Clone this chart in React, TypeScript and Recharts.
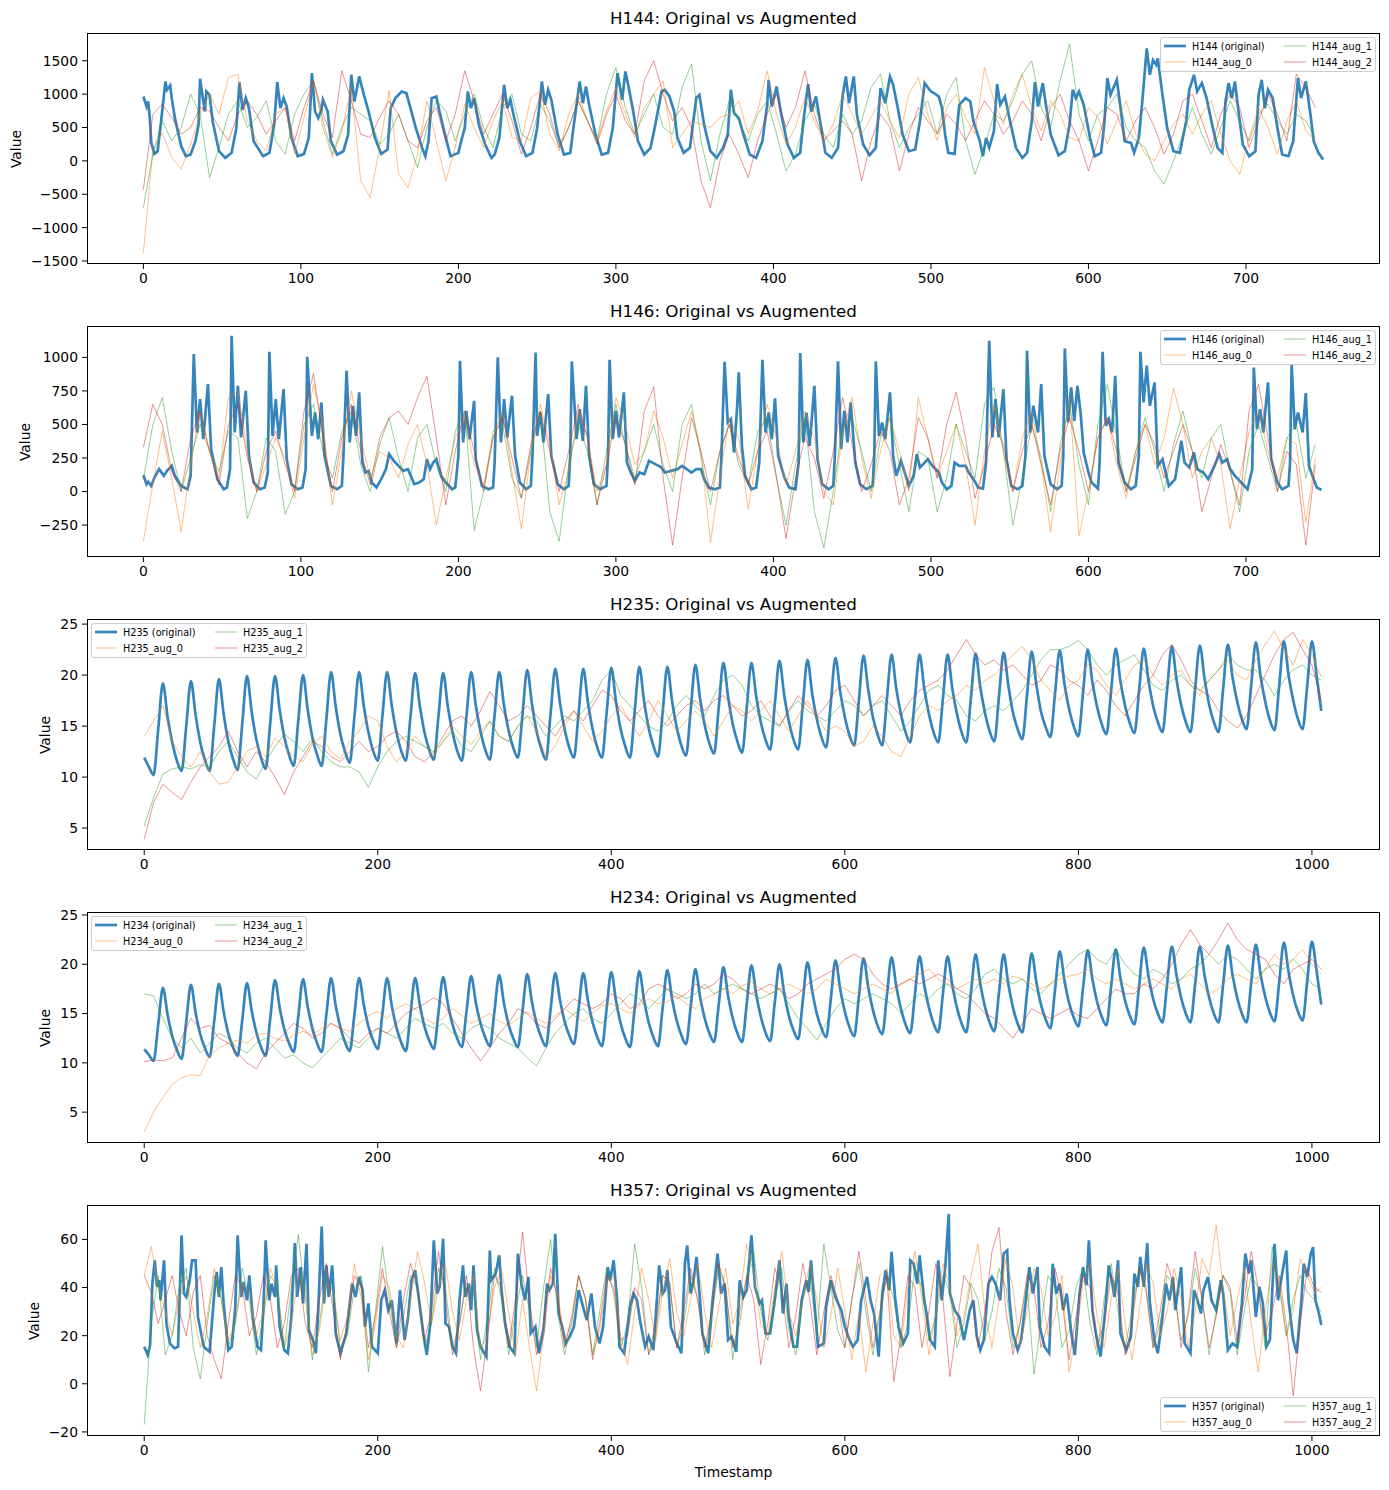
import React from "react";
import { LineChart, Line, XAxis, YAxis } from "recharts";

const FONT = "'DejaVu Sans', sans-serif";
const C_ORIG = "#1f77b4";
const C_AUG = ["#ff7f0e", "#2ca02c", "#d62728"];

// ---------- H144 ----------
const H144_ORIG: [number, number][] = [[0,965],[2,815],[3,890],[4,665],[5,270],[7,105],[9,145],[11,540],[14,1190],[15,1065],[17,1130],[18,940],[20,640],[24,220],[27,70],[30,95],[33,295],[35,540],[36,1230],[39,740],[40,1040],[42,990],[44,590],[48,145],[52,45],[56,120],[59,490],[61,1175],[63,765],[65,940],[67,790],[70,295],[76,70],[80,120],[83,540],[85,1180],[87,790],[89,940],[91,815],[94,345],[98,70],[102,105],[105,345],[107,1315],[109,740],[111,640],[113,765],[114,915],[117,740],[119,295],[123,95],[127,145],[130,395],[132,1290],[134,890],[137,1265],[140,990],[143,740],[147,345],[151,105],[155,170],[157,790],[160,940],[164,1040],[167,1015],[169,840],[173,490],[177,195],[179,70],[181,295],[183,940],[186,965],[188,740],[192,345],[195,70],[200,120],[202,320],[204,490],[206,1040],[208,790],[210,940],[213,540],[217,245],[221,45],[223,95],[226,345],[229,1140],[231,790],[233,915],[235,690],[239,295],[243,70],[247,120],[250,490],[253,1190],[255,840],[257,1065],[259,915],[263,395],[267,95],[271,120],[273,490],[277,1190],[279,865],[281,1115],[283,840],[287,395],[291,95],[295,120],[298,490],[301,1315],[304,915],[306,1340],[308,1115],[311,740],[314,295],[318,95],[322,195],[325,540],[329,1040],[331,1065],[334,965],[337,740],[339,345],[343,120],[347,195],[351,940],[353,990],[356,540],[360,145],[364,45],[368,195],[371,395],[373,1065],[375,715],[378,640],[381,395],[385,95],[389,45],[393,295],[396,840],[397,1215],[399,815],[402,1115],[405,690],[409,245],[413,45],[417,120],[419,590],[422,1150],[424,740],[427,965],[430,540],[433,120],[437,45],[441,195],[444,990],[446,1265],[448,865],[451,1265],[453,690],[457,245],[461,85],[465,195],[468,1090],[471,865],[474,1265],[476,1140],[479,790],[482,395],[486,145],[490,170],[493,590],[496,1165],[500,1040],[502,1015],[505,965],[507,790],[509,395],[511,120],[515,105],[518,840],[522,940],[525,890],[527,590],[531,295],[533,70],[535,345],[537,195],[540,445],[542,1150],[544,840],[547,965],[550,615],[554,195],[558,45],[561,120],[564,590],[566,1180],[568,815],[571,1165],[573,840],[576,395],[581,85],[585,145],[588,540],[590,1065],[592,940],[594,1040],[597,840],[601,345],[604,70],[608,120],[610,540],[612,1240],[614,990],[618,1215],[620,865],[623,295],[627,270],[629,120],[632,345],[634,840],[637,1685],[639,1290],[641,1510],[643,1440],[644,1535],[647,990],[650,490],[654,145],[658,120],[662,590],[664,1065],[667,1290],[669,1040],[672,1165],[675,940],[679,490],[682,195],[685,120],[687,890],[689,1165],[691,940],[693,1190],[695,790],[698,245],[702,70],[706,145],[708,990],[710,1215],[712,790],[714,1065],[717,940],[720,490],[723,95],[727,70],[730,295],[733,1240],[735,940],[738,1190],[741,690],[743,295],[746,120],[749,20]];
const H144_AUG0 = [-1375,150,420,50,-120,250,700,1000,700,1250,1300,600,300,150,700,800,100,650,1200,500,50,450,1100,-300,-550,200,1050,-200,-400,100,900,300,-300,200,850,500,200,600,900,350,300,950,1050,400,150,700,1000,600,300,750,1100,700,350,800,1000,1200,200,400,600,550,500,650,700,900,400,750,1350,700,250,500,950,600,300,550,1000,700,400,650,900,600,350,1000,1250,700,300,800,1000,650,400,1400,900,550,1000,1300,800,450,900,700,350,300,800,650,250,600,900,400,100,0,300,550,700,400,700,900,400,0,-200,350,800,500,100,600,900,450,300];
const H144_AUG1 = [-700,100,600,300,500,1000,700,-250,200,700,900,500,650,900,300,100,700,1000,1200,600,100,500,800,700,600,250,400,700,300,-100,500,900,750,300,700,1000,500,200,800,1000,400,300,850,600,200,500,900,600,300,1000,1400,800,400,700,1000,500,400,1100,1450,300,-300,400,900,600,300,700,900,400,-150,100,600,850,400,200,700,400,600,1100,1300,600,200,500,700,900,400,1000,1250,300,-200,200,700,600,900,1300,1500,800,500,1200,1750,700,300,700,800,1000,500,300,200,-150,-350,0,400,800,400,100,500,900,600,300,700,850,600,400,700,600,350];
const H144_AUG2 = [-430,700,850,650,400,500,800,750,500,300,700,900,700,400,600,800,300,800,1200,700,350,1350,900,400,350,650,900,700,300,200,600,800,300,700,1350,900,400,700,1000,600,100,500,1000,700,200,500,900,600,250,700,1000,600,400,1200,1500,1000,600,800,500,-300,-700,0,400,100,-250,300,700,1000,500,800,1350,700,300,450,600,400,-300,300,700,500,-150,400,800,600,400,700,550,300,600,900,700,400,600,900,700,300,800,1000,600,300,-150,300,800,700,300,600,800,500,100,400,900,1000,600,200,700,1000,800,200,600,1000,700,300,1300,1100,800];

// ---------- H146 ----------
const H146_ORIG: [number, number][] = [[0,122],[2,55],[3,72],[5,42],[7,104],[10,167],[13,117],[15,154],[18,191],[20,117],[24,42],[28,17],[30,117],[32,1025],[34,440],[36,689],[38,390],[41,801],[43,316],[47,92],[51,17],[53,30],[55,167],[56,1161],[58,440],[60,788],[62,403],[65,751],[67,266],[70,67],[74,17],[77,30],[79,142],[80,1042],[82,415],[84,689],[86,390],[89,764],[91,241],[94,55],[98,17],[101,30],[103,167],[104,1005],[107,415],[109,589],[111,390],[113,664],[115,266],[119,42],[123,17],[126,42],[127,266],[129,900],[131,366],[133,639],[135,415],[137,739],[139,216],[141,142],[143,154],[145,67],[148,30],[151,92],[154,167],[156,279],[159,229],[162,191],[165,154],[168,167],[172,55],[175,67],[178,92],[180,241],[182,167],[184,216],[186,241],[189,117],[192,67],[196,17],[198,30],[200,266],[201,975],[203,366],[205,602],[207,390],[210,676],[211,241],[215,42],[219,17],[222,30],[223,216],[225,1000],[227,366],[229,689],[231,403],[234,714],[236,266],[239,67],[243,17],[246,42],[247,266],[249,1037],[250,415],[252,589],[254,366],[257,726],[259,266],[263,55],[267,17],[270,42],[271,266],[272,970],[275,390],[277,614],[279,378],[281,788],[283,266],[286,55],[290,17],[294,42],[295,266],[296,982],[298,390],[300,602],[302,403],[305,739],[307,216],[309,154],[312,80],[315,142],[318,129],[321,229],[325,204],[329,179],[331,142],[335,154],[339,167],[342,191],[345,167],[348,142],[351,167],[354,167],[356,92],[359,30],[363,17],[366,30],[367,266],[369,967],[371,515],[373,540],[375,291],[377,640],[378,888],[380,341],[382,117],[386,17],[389,30],[391,216],[393,982],[395,440],[397,589],[399,390],[401,694],[403,266],[407,104],[410,30],[414,17],[416,216],[417,1032],[419,366],[421,589],[423,341],[426,788],[428,241],[431,55],[435,17],[438,42],[439,266],[441,970],[443,316],[445,602],[447,366],[449,664],[452,216],[455,55],[459,17],[463,42],[464,266],[465,970],[467,415],[469,515],[471,390],[474,739],[476,266],[478,117],[481,229],[484,117],[486,42],[489,117],[491,279],[493,179],[496,216],[498,241],[501,191],[505,142],[507,67],[510,17],[513,42],[515,216],[518,191],[522,191],[524,142],[527,92],[530,30],[533,22],[535,216],[537,1124],[539,403],[541,689],[543,403],[546,764],[548,241],[551,42],[555,17],[558,42],[560,266],[561,1050],[563,440],[565,639],[568,440],[570,801],[572,266],[576,55],[580,17],[583,42],[584,266],[585,1067],[587,515],[589,776],[591,527],[593,788],[595,589],[597,291],[600,142],[602,67],[606,22],[607,191],[609,1042],[611,490],[613,540],[615,440],[617,863],[619,216],[623,67],[627,17],[630,42],[632,266],[633,1042],[635,664],[637,938],[639,639],[642,813],[644,191],[647,241],[651,42],[655,92],[659,378],[661,216],[664,179],[667,291],[669,167],[673,142],[676,92],[680,191],[683,279],[685,216],[688,241],[690,167],[693,117],[697,67],[701,17],[704,167],[705,925],[707,465],[709,614],[711,440],[714,813],[716,241],[720,67],[723,17],[727,42],[728,216],[729,950],[731,465],[733,589],[736,440],[738,734],[740,191],[743,92],[745,30],[748,12]];
const H146_AUG0 = [-370,50,450,100,-300,200,600,300,100,700,750,300,0,200,400,250,-50,400,800,500,-100,300,750,400,100,300,250,100,350,500,200,-250,100,400,550,200,50,400,600,150,-280,300,650,350,-100,150,600,400,0,200,700,500,200,300,600,400,100,350,600,300,-380,100,550,400,-130,300,650,400,50,300,600,400,0,-100,450,700,250,-50,300,550,300,0,700,400,100,300,500,200,-250,300,650,300,0,400,600,200,-300,200,700,-330,0,400,550,200,-50,300,500,200,400,770,500,100,300,400,200,-280,100,450,600,300,100,400,350,-230,250];
const H146_AUG1 = [90,500,700,300,0,250,500,300,150,450,400,-200,0,400,300,-170,0,500,650,300,100,450,600,200,0,350,550,250,0,400,500,200,0,450,600,-290,0,450,500,100,-50,300,600,-150,-370,200,500,300,-100,300,650,350,100,300,500,200,0,500,650,250,-100,300,500,200,50,450,550,100,-250,200,550,-150,-420,0,500,550,300,0,400,550,200,-150,300,250,-150,100,500,300,100,650,780,300,-250,100,500,250,-150,350,650,200,-100,500,800,400,0,300,550,300,0,350,600,300,100,400,500,150,-150,300,500,250,0,400,500,100,350];
const H146_AUG2 = [330,650,500,150,0,400,600,300,50,500,650,250,0,300,450,200,0,600,880,400,0,400,650,300,50,400,550,600,500,700,860,400,-100,300,600,300,0,400,550,250,-50,350,600,300,0,300,650,400,-100,200,550,350,50,600,780,100,-400,100,550,300,0,300,500,250,50,300,450,100,-350,100,400,250,-50,300,700,350,0,200,450,300,-100,100,550,400,100,500,740,400,-50,200,500,350,0,300,500,200,-100,300,550,300,0,400,550,300,0,250,500,350,100,300,500,300,-150,100,350,150,-100,600,800,400,0,300,200,-400,200];

// ---------- H235 (original every 4 steps) ----------
const H235_ORIG = [11.9,11.0,10.2,14.7,19.2,15.9,13.4,11.6,10.6,15.0,19.4,16.1,13.4,11.7,10.6,15.1,19.6,16.2,13.5,11.8,10.7,15.3,19.9,16.4,13.7,11.9,10.8,15.4,19.9,16.6,13.9,12.2,11.1,15.6,20.0,16.6,13.9,12.2,11.1,15.7,20.3,16.9,14.2,12.5,11.4,15.9,20.3,17.0,14.4,12.6,11.6,16.0,20.3,17.0,14.4,12.6,11.6,15.9,20.2,17.0,14.4,12.7,11.7,16.0,20.2,16.9,14.4,12.6,11.6,16.0,20.3,17.0,14.5,12.7,11.7,16.0,20.3,17.1,14.6,12.9,11.9,16.2,20.5,17.2,14.5,12.8,11.7,16.2,20.6,17.3,14.7,12.9,11.9,16.3,20.6,17.3,14.7,12.9,11.9,16.3,20.7,17.4,14.7,13.0,11.9,16.4,20.8,17.5,14.8,13.1,12.0,16.4,20.8,17.5,14.9,13.1,12.1,16.6,21.0,17.7,15.1,13.3,12.3,16.8,21.2,17.9,15.2,13.5,12.4,16.8,21.2,18.0,15.4,13.7,12.7,17.1,21.4,18.1,15.5,13.7,12.7,17.1,21.5,18.2,15.7,13.9,12.9,17.3,21.7,18.4,15.9,14.1,13.1,17.5,21.9,18.6,15.9,14.2,13.1,17.6,22.0,18.7,16.2,14.4,13.4,17.7,22.0,18.7,16.2,14.4,13.4,17.7,22.0,18.7,16.2,14.4,13.4,17.8,22.1,18.8,16.3,14.5,13.5,17.9,22.2,19.0,16.3,14.7,13.7,18.0,22.3,19.1,16.4,14.9,13.9,18.2,22.4,19.2,16.7,15.0,14.0,18.3,22.5,19.3,16.9,15.2,14.2,18.4,22.6,19.4,17.0,15.3,14.3,18.5,22.6,19.5,17.0,15.4,14.4,18.6,22.8,19.6,17.1,15.4,14.4,18.7,22.9,19.7,17.1,15.4,14.4,18.7,23.0,19.8,17.4,15.7,14.7,19.0,23.2,19.9,17.4,15.6,14.6,19.0,23.3,20.0,17.5,15.7,14.7,19.0,23.3,20.0,16.5];
const H235_AUG0 = [14.0,15.5,17.0,13.5,12.0,11.0,12.5,10.5,9.3,9.5,11.0,12.5,13.0,12.0,13.8,13.0,12.0,11.5,13.2,14.0,12.5,11.8,13.5,14.5,16.0,15.5,13.0,11.5,12.5,14.0,13.0,12.0,13.5,15.0,14.0,13.2,14.5,15.5,14.0,13.5,15.0,16.0,14.5,12.0,13.0,15.0,16.5,15.0,13.5,14.5,16.0,17.0,15.5,14.0,15.5,17.5,16.0,14.5,15.5,16.5,15.5,14.0,15.5,17.0,16.5,15.5,16.5,17.5,16.0,14.5,16.0,17.5,16.0,14.5,15.0,14.5,13.0,13.5,15.0,14.0,12.5,12.0,14.0,16.0,17.0,16.5,17.5,18.0,19.0,18.5,19.5,20.0,21.0,22.0,22.8,21.5,19.5,18.5,17.5,19.0,19.5,21.0,20.5,19.0,18.0,19.5,21.0,21.5,20.0,19.0,20.0,20.5,19.0,18.0,19.5,20.5,21.5,20.0,19.5,21.5,23.0,24.3,22.5,21.0,23.5,22.0,19.8];
const H235_AUG1 = [5.2,8.0,10.3,10.8,11.0,10.8,11.2,11.0,12.5,13.5,12.0,10.5,9.8,11.5,13.0,14.2,13.5,12.5,13.8,12.5,11.5,11.0,11.0,10.5,9.0,11.0,12.5,13.5,14.0,13.5,13.0,12.5,13.5,14.5,13.0,12.5,14.0,15.5,14.0,13.5,15.0,16.0,15.5,14.0,15.0,16.0,15.5,16.5,17.5,19.5,20.5,18.0,17.0,16.0,15.0,14.5,15.5,17.0,18.0,17.0,16.0,18.0,19.5,20.0,19.0,17.0,16.0,15.5,15.0,16.5,17.5,16.5,16.0,15.5,16.5,17.5,17.0,16.0,17.0,17.5,16.0,14.5,15.5,17.0,18.5,19.0,18.0,17.5,16.0,15.5,16.5,17.0,16.5,17.5,18.5,20.0,21.5,22.5,22.5,22.8,23.4,22.5,21.0,20.0,21.0,21.5,22.0,20.5,19.0,18.5,19.5,20.0,19.0,18.5,19.5,20.5,22.0,21.0,20.5,20.5,19.5,18.0,19.5,20.5,21.0,20.0,19.5];
const H235_AUG2 = [3.9,7.5,9.3,8.5,7.8,9.5,11.0,12.0,13.0,14.5,12.5,11.0,12.5,11.5,10.0,8.3,10.5,12.0,13.5,13.0,12.0,11.5,12.5,13.5,12.5,13.0,14.0,14.5,13.5,12.0,11.5,12.5,14.0,15.5,16.0,15.0,16.5,18.4,17.0,15.5,16.0,17.0,16.0,15.0,14.0,15.5,16.5,15.5,17.0,18.5,18.0,16.5,15.5,16.5,17.5,16.0,15.0,16.0,17.0,17.5,16.5,17.5,18.0,17.0,16.0,16.5,17.5,16.0,15.0,16.5,18.0,17.0,16.0,17.0,18.5,19.0,17.5,16.0,17.0,18.0,17.0,16.0,17.5,18.5,19.0,19.5,20.5,22.0,23.5,22.0,21.0,21.5,20.5,21.0,20.0,19.0,19.5,21.0,20.5,19.5,19.0,18.0,19.5,18.5,17.0,16.0,17.5,19.0,20.0,22.0,23.0,21.5,19.5,18.5,18.0,16.5,15.5,14.8,16.0,18.0,20.0,22.0,23.5,24.2,22.5,21.0,17.5];

// ---------- H234 (original every 4 steps) ----------
const H234_ORIG = [11.4,10.8,10.2,13.9,17.6,14.9,12.7,11.3,10.4,14.2,17.9,15.1,12.9,11.5,10.6,14.3,18.0,15.2,13.0,11.6,10.7,14.4,18.1,15.3,13.1,11.6,10.7,14.6,18.4,15.6,13.4,12.0,11.1,14.8,18.5,15.7,13.5,12.0,11.1,14.9,18.6,15.8,13.6,12.1,11.2,14.9,18.6,15.9,13.7,12.3,11.4,15.0,18.6,15.8,13.6,12.1,11.2,14.9,18.6,15.9,13.7,12.3,11.4,15.1,18.7,16.0,13.9,12.5,11.6,15.2,18.8,16.1,14.0,12.6,11.7,15.3,18.9,16.1,13.9,12.5,11.6,15.3,19.0,16.2,14.0,12.6,11.7,15.4,19.1,16.4,14.2,12.8,11.9,15.5,19.1,16.3,14.1,12.6,11.7,15.5,19.2,16.3,14.0,12.5,11.6,15.5,19.3,16.4,14.1,12.6,11.7,15.6,19.4,16.5,14.3,12.8,11.9,15.7,19.5,16.7,14.5,13.0,12.1,15.9,19.7,16.8,14.5,13.0,12.1,16.0,19.9,17.0,14.7,13.1,12.2,16.1,20.0,17.1,14.8,13.3,12.4,16.3,20.2,17.3,15.0,13.5,12.6,16.5,20.4,17.5,15.2,13.6,12.7,16.7,20.6,17.7,15.4,13.8,12.9,16.8,20.7,17.8,15.5,13.9,13.0,16.9,20.8,17.9,15.6,14.0,13.1,17.0,20.8,17.9,15.6,14.0,13.1,17.1,21.0,18.0,15.7,14.1,13.2,17.1,21.0,18.0,15.6,14.0,13.1,17.1,21.1,18.2,15.9,14.4,13.5,17.4,21.3,18.4,16.1,14.6,13.7,17.6,21.4,18.5,16.2,14.7,13.8,17.7,21.5,18.6,16.3,14.8,13.9,17.8,21.7,18.8,16.5,15.0,14.1,18.0,21.8,18.9,16.6,15.0,14.1,18.0,21.8,18.9,16.6,15.0,14.1,18.0,21.9,18.9,16.6,15.0,14.1,18.1,22.0,19.0,16.7,15.1,14.2,18.2,22.2,19.2,16.8,15.2,14.3,18.3,22.3,19.3,15.9];
const H234_AUG0 = [3.0,5.0,6.5,7.8,8.5,8.8,8.7,10.8,11.5,12.0,12.3,12.0,12.8,13.0,12.5,12.2,12.8,13.2,12.8,13.5,14.0,13.5,13.2,14.0,14.8,15.2,14.5,15.5,16.0,15.5,14.5,14.0,14.5,15.5,14.8,14.0,14.5,15.0,14.2,13.8,14.5,15.2,14.5,14.0,14.8,15.5,14.8,14.2,15.0,15.8,16.0,15.5,15.0,15.8,16.5,16.0,16.2,16.8,16.0,15.5,16.5,17.0,17.5,17.0,17.8,18.2,17.5,17.0,17.5,18.0,17.5,17.0,17.5,18.5,18.0,17.5,17.0,17.5,18.0,17.5,17.0,18.0,18.5,19.0,19.5,18.5,18.0,17.5,18.0,18.5,18.0,18.5,18.0,18.8,18.5,18.0,17.5,18.0,18.5,18.8,19.0,19.5,18.5,18.0,18.5,18.0,17.5,18.0,18.5,18.0,17.5,18.5,19.0,18.0,17.0,17.5,18.5,19.0,18.5,18.0,19.5,21.0,20.0,20.5,21.5,20.0,19.0];
const H234_AUG1 = [17.0,16.8,14.5,12.5,11.5,12.5,11.0,12.0,13.0,12.5,11.5,11.0,12.0,12.5,11.5,10.5,10.8,10.0,9.5,10.5,11.5,12.5,12.0,11.5,12.5,13.5,13.0,12.5,13.5,14.5,14.0,13.5,14.0,13.0,12.5,13.5,14.0,13.5,12.5,12.0,11.5,10.5,9.7,11.5,13.0,14.0,15.0,15.5,14.5,14.0,15.0,16.0,17.0,16.5,15.5,16.5,17.5,17.0,16.5,17.0,18.0,17.0,17.5,18.0,17.5,17.0,16.5,17.0,17.5,16.0,14.5,13.5,12.3,14.0,15.5,16.5,16.0,16.5,17.0,16.5,16.0,15.0,16.0,17.0,16.5,17.5,18.0,17.0,16.5,17.5,19.0,19.5,18.5,18.0,18.5,17.5,17.0,18.0,19.0,20.0,21.0,21.5,20.5,20.0,21.5,20.0,19.0,18.5,19.5,19.0,18.0,18.5,19.5,20.0,21.0,20.0,21.0,20.5,19.5,18.5,19.5,20.0,19.5,20.5,19.5,18.0,17.5];
const H234_AUG2 = [10.1,10.3,10.2,10.5,12.5,14.5,13.5,13.8,12.5,12.0,11.0,10.0,9.4,11.0,12.0,13.0,14.0,13.5,12.5,13.0,14.0,13.5,12.5,12.0,13.0,13.5,13.0,14.0,15.0,15.5,16.0,16.6,16.0,14.5,13.0,11.5,10.2,11.5,13.0,14.0,15.5,15.0,14.0,13.5,14.5,15.5,16.5,16.0,15.5,16.0,17.0,16.5,15.5,16.0,17.5,18.0,17.5,16.5,17.0,18.0,17.5,18.0,19.0,18.5,17.5,17.0,17.5,18.0,17.5,16.5,17.0,18.0,18.5,19.0,19.5,20.5,21.0,20.5,19.0,18.0,17.5,18.0,18.5,18.0,18.5,19.0,18.5,17.5,17.0,16.0,15.0,14.5,13.5,12.5,14.0,15.5,15.0,14.5,15.0,15.5,14.8,14.5,15.5,16.5,17.5,17.0,17.0,18.0,17.5,18.5,20.0,22.0,23.5,22.0,21.0,22.5,24.2,22.5,21.5,21.0,20.5,19.0,18.0,19.5,20.0,20.5,19.5];

// ---------- H357 ----------
const H357_ORIG: [number, number][] = [[0,15.4],[3,12],[5,16],[7,41.6],[9,51.3],[11,40.3],[13,43],[14,34.7],[17,51.3],[19,25.1],[22,16.8],[26,14.7],[29,15.4],[32,61.7],[34,37.5],[36,36.1],[39,43],[41,51.3],[44,51.3],[46,27.8],[51,15.4],[56,13.3],[60,37.5],[62,46.5],[64,36.1],[66,48.5],[68,33.4],[72,14],[75,15.4],[78,32],[80,61.7],[83,36.1],[85,42.3],[88,34.7],[90,45.1],[93,27.8],[97,15.4],[100,14],[102,30.6],[104,59.6],[107,34.7],[109,41.6],[112,36.1],[113,49.2],[116,23.7],[120,14],[123,12.7],[126,27.8],[129,58.5],[131,36.1],[134,48.5],[136,33.4],[139,58.2],[141,22.3],[145,17.5],[147,12.7],[149,30.6],[152,65.4],[154,33.4],[156,49.2],[158,36.1],[161,49.2],[164,20.9],[168,12.7],[173,20.9],[178,41.6],[181,36.1],[184,44.4],[187,38.9],[189,23.7],[192,33.4],[195,15.4],[200,12.7],[203,34.7],[206,38.9],[209,30.6],[212,34.7],[216,16.8],[219,38.9],[223,18.2],[226,27.8],[229,43],[232,47.2],[235,36.1],[239,20.9],[242,12],[245,25.1],[248,59.6],[251,37.5],[253,40.3],[256,60.3],[258,25.1],[261,23.7],[264,15.4],[267,12.7],[270,34.7],[273,49.2],[275,36.1],[278,41.6],[280,30.6],[282,49.2],[285,22.3],[288,15.4],[293,11.3],[296,55.4],[297,43],[301,45.8],[304,53.4],[306,38.9],[309,25.1],[313,15.4],[317,12.7],[320,54.1],[323,41.6],[326,34.7],[329,44.4],[331,20.9],[335,23.7],[338,12.7],[342,22.3],[345,41.6],[347,38.9],[350,41.6],[352,62.3],[355,29.2],[358,23.7],[361,16.8],[365,20.2],[368,23.7],[372,38.9],[375,33.4],[379,26.5],[383,37.5],[386,23.7],[390,16.8],[393,23.7],[397,48.5],[399,43],[402,51.3],[405,34.7],[407,15.4],[411,12.7],[416,32],[419,37.5],[422,34.7],[425,25.1],[429,15.4],[432,19.6],[436,14],[439,34.7],[441,49.2],[444,37.5],[446,38.9],[448,47.2],[451,23.7],[455,18.2],[460,12.7],[463,49.9],[465,57.5],[468,37.5],[470,41.6],[473,52.7],[476,34.7],[478,20.9],[483,12.7],[487,36.1],[491,54.1],[494,37.5],[497,41.6],[500,18.2],[503,19.6],[507,13.3],[510,43],[513,36.1],[516,38.9],[520,61.7],[523,40.3],[527,33.4],[529,34.7],[532,20.9],[536,20.9],[540,34.7],[544,51.3],[547,29.2],[550,41.6],[552,27.8],[556,15.4],[559,15.4],[563,34.7],[567,43],[569,38.2],[571,51.3],[574,33.4],[577,15.4],[582,16.8],[584,32],[588,43],[591,37.5],[593,34.7],[597,30.6],[600,23.7],[604,18.2],[607,15.4],[611,18.2],[614,34.7],[619,44.4],[622,34.7],[625,29.2],[629,11.3],[632,37.5],[635,47.2],[638,38.9],[640,54.8],[643,36.1],[646,23.7],[650,16.8],[654,20.9],[656,51.3],[659,49.9],[662,41.6],[664,53.4],[668,34.7],[670,29.2],[673,18.2],[677,15.4],[680,51.3],[683,34.7],[686,48.5],[689,70.6],[690,37.5],[694,30.6],[698,27.8],[702,18.2],[707,30.6],[710,34.7],[713,19.6],[716,14],[719,18.2],[723,41.6],[726,44.4],[729,41.6],[733,34.7],[736,54.1],[739,55.4],[741,34.7],[744,20.9],[748,14],[751,18.2],[755,34.7],[758,48.5],[761,37.5],[765,48.5],[767,23.7],[771,15.4],[775,12.7],[778,49.9],[781,37.5],[784,41.6],[787,30.6],[790,37.5],[794,20.9],[797,12],[801,37.5],[804,48.5],[807,41],[809,59.6],[812,30.6],[815,20.9],[819,11.3],[823,30.6],[826,49.2],[829,41.6],[831,36.1],[834,51.3],[836,20.9],[841,14],[845,19.6],[848,45.8],[851,40.3],[853,52.7],[856,40.3],[859,58.5],[861,34.7],[865,18.2],[868,12.7],[872,27.8],[875,41.6],[878,34.7],[881,44.4],[883,30.6],[888,48.5],[891,16.8],[896,12.7],[899,38.9],[902,34.7],[905,29.2],[907,38.9],[911,44.4],[914,34.7],[918,30.6],[922,43],[924,37.5],[928,14],[932,16.8],[936,15.4],[940,33.4],[943,54.1],[946,45.8],[948,51.3],[952,27.8],[955,40.3],[958,33.4],[961,15.4],[964,18.2],[968,58.2],[971,34.7],[974,44.4],[978,55.4],[980,34.7],[984,18.2],[987,12.7],[991,34.7],[993,49.9],[996,44.4],[999,54.1],[1001,56.8],[1003,34.7],[1006,29.2],[1008,24.4]];
const H357_AUG0 = [45,57,40,30,20,35,45,30,15,28,48,35,18,25,42,38,20,30,48,40,15,25,45,40,12,22,42,38,18,28,50,35,10,25,45,40,20,15,35,55,42,25,40,50,30,18,35,45,15,20,40,48,30,12,35,15,-3,20,45,38,18,25,45,35,12,22,42,45,20,8,30,48,35,18,38,52,30,20,35,50,30,15,32,48,25,35,58,45,25,20,40,55,30,20,35,50,35,15,28,48,30,10,30,5,25,45,48,20,15,40,55,35,12,30,50,40,20,28,45,58,30,15,35,52,40,15,30,48,40,20,28,45,5,20,42,50,28,15,35,48,25,10,30,50,42,20,30,48,35,15,30,52,45,66,40,20,35,48,25,5,30,50,42,20,30,52,45,38,40];
const H357_AUG1 = [-17,25,45,12,20,40,48,15,2,25,45,35,15,25,48,35,12,28,45,40,15,40,62,35,10,25,45,38,15,20,40,45,5,30,57,35,15,28,45,40,15,25,48,40,15,25,42,38,10,28,48,35,12,30,45,30,15,40,60,30,12,25,45,35,12,30,48,38,15,25,58,40,12,20,45,42,15,25,45,35,12,28,48,40,10,30,45,55,30,18,35,48,22,12,35,45,20,58,40,22,15,35,50,30,12,28,45,35,15,25,48,40,18,28,45,38,15,25,42,35,18,30,48,40,15,25,42,4,25,45,40,15,22,40,48,25,12,35,50,30,15,30,48,38,15,25,45,40,18,28,48,35,12,30,45,38,12,30,45,40,15,57,40,20,35,45,38,35,30];
const H357_AUG2 = [45,38,25,35,45,30,20,38,45,20,10,2,25,45,40,20,28,45,35,15,25,45,48,25,15,35,50,30,10,25,45,40,15,28,48,30,15,35,50,40,18,30,55,35,12,25,45,15,-3,20,45,40,15,35,63,35,12,25,48,35,15,28,45,35,10,25,45,40,18,20,40,35,12,25,45,42,15,30,48,35,15,30,50,40,15,25,45,35,8,25,48,40,15,28,50,35,12,30,45,35,15,35,55,35,15,30,45,1,20,45,40,15,30,50,35,3,25,45,40,15,30,55,65,30,12,25,45,40,15,25,48,35,10,28,45,40,15,25,45,38,12,25,48,40,15,30,50,40,15,30,55,35,15,28,45,40,18,35,55,40,20,30,45,25,-5,25,48,40,38];

// sampling steps of the stored series
const STEP_AUG_SHORT = 6; // H144 / H146 augmented
const STEP_ORIG_LONG = 4; // H235 / H234 original
const STEP_AUG_LONG = 8; // H235 / H234 augmented
const STEP_AUG_H357 = 6;

const X_TICKS_SHORT = [0, 100, 200, 300, 400, 500, 600, 700];
const X_TICKS_LONG = [0, 200, 400, 600, 800, 1000];

type Pt = { t: number; v: number };
const fromPairs = (p: [number, number][]): Pt[] => p.map(([t, v]) => ({ t, v }));
const fromGrid = (vals: number[], step: number): Pt[] => vals.map((v, i) => ({ t: i * step, v }));
const fmt = (v: number) => (v < 0 ? `\u2212${Math.abs(v)}` : `${v}`);

const PLOT_L = 87;
const PLOT_R = 1380;
const PLOT_H = 231;
const TOP_PAD = 40;

interface PanelProps {
  name: string;
  top: number;
  xDomain: [number, number];
  xTicks: number[];
  yDomain: [number, number];
  yTicks: number[];
  orig: Pt[];
  augs: Pt[][];
  origCurve: "linear" | "monotone";
  legend: { left: number; top: number };
  yLabelX: number;
}

const LegendSwatch = ({ color, width, opacity }: { color: string; width: number; opacity: number }) => (
  <svg width={22} height={8} style={{ display: "block" }}>
    <line x1={0} x2={22} y1={4} y2={4} stroke={color} strokeWidth={width} strokeOpacity={opacity} />
  </svg>
);

const Panel = ({ name, top, xDomain, xTicks, yDomain, yTicks, orig, augs, origCurve, legend, yLabelX }: PanelProps) => {
  const tickStyle = { fill: "#000", fontSize: 13.9, fontFamily: FONT };
  const items = [
    { label: `${name} (original)`, color: C_ORIG, w: 2.7, o: 0.9 },
    { label: `${name}_aug_0`, color: C_AUG[0], w: 1, o: 0.5 },
    { label: `${name}_aug_1`, color: C_AUG[1], w: 1, o: 0.5 },
    { label: `${name}_aug_2`, color: C_AUG[2], w: 1, o: 0.5 },
  ];
  const cols = [[items[0], items[1]], [items[2], items[3]]];
  return (
    <>
      <div
        style={{
          position: "absolute",
          left: PLOT_L,
          width: PLOT_R - PLOT_L,
          top: top - 25,
          textAlign: "center",
          fontFamily: FONT,
          fontSize: 16.7,
          lineHeight: "20px",
          color: "#000",
        }}
      >
        {`${name}: Original vs Augmented`}
      </div>
      <div
        style={{
          position: "absolute",
          left: yLabelX,
          top: top + PLOT_H / 2,
          transform: "translate(-50%, -50%) rotate(-90deg)",
          fontFamily: FONT,
          fontSize: 13.9,
          color: "#000",
          whiteSpace: "nowrap",
        }}
      >
        Value
      </div>
      <div style={{ position: "absolute", left: 0, top: top - TOP_PAD }}>
        <LineChart
          width={1389}
          height={TOP_PAD + PLOT_H + 30}
          margin={{ top: TOP_PAD, right: 1389 - PLOT_R, bottom: 0, left: 0 }}
        >
          <XAxis
            dataKey="t"
            type="number"
            domain={xDomain}
            ticks={xTicks}
            interval={0}
            allowDataOverflow
            axisLine={false}
            tickLine={{ stroke: "#000" }}
            tickSize={5}
            tickMargin={4}
            height={30}
            tick={tickStyle}
          />
          <YAxis
            type="number"
            domain={yDomain}
            ticks={yTicks}
            interval={0}
            allowDataOverflow
            axisLine={false}
            tickLine={{ stroke: "#000" }}
            tickSize={5}
            tickMargin={4}
            width={PLOT_L}
            tick={tickStyle}
            tickFormatter={fmt}
          />
          <Line
            data={orig}
            dataKey="v"
            type={origCurve}
            stroke={C_ORIG}
            strokeOpacity={0.9}
            strokeWidth={2.7}
            dot={false}
            activeDot={false}
            isAnimationActive={false}
          />
          {augs.map((d, i) => (
            <Line
              key={i}
              data={d}
              dataKey="v"
              type="linear"
              stroke={C_AUG[i]}
              strokeOpacity={0.5}
              strokeWidth={1}
              dot={false}
              activeDot={false}
              isAnimationActive={false}
            />
          ))}
        </LineChart>
      </div>
      <div
        style={{
          position: "absolute",
          left: PLOT_L,
          top,
          width: PLOT_R - PLOT_L,
          height: PLOT_H,
          border: "1px solid #000",
          boxSizing: "border-box",
          pointerEvents: "none",
        }}
      />
      <div
        style={{
          position: "absolute",
          left: legend.left,
          top: legend.top,
          width: 216,
          height: 35,
          border: "1px solid #cccccc",
          borderRadius: 3,
          background: "rgba(255,255,255,0.8)",
          boxSizing: "border-box",
          fontFamily: FONT,
          fontSize: 9.7,
          color: "#000",
        }}
      >
        {cols.map((col, ci) =>
          col.map((it, ri) => (
            <div
              key={`${ci}-${ri}`}
              style={{
                position: "absolute",
                left: 3 + ci * 120,
                top: 1 + ri * 16,
                height: 14,
                display: "flex",
                alignItems: "center",
                whiteSpace: "nowrap",
              }}
            >
              <LegendSwatch color={it.color} width={it.w} opacity={it.o} />
              <span style={{ marginLeft: 6 }}>{it.label}</span>
            </div>
          ))
        )}
      </div>
    </>
  );
};

export default function App() {
  const shortX: [number, number] = [-35.8, 785.1];
  const longX: [number, number] = [-49.0, 1058.3];
  return (
    <div
      style={{
        position: "absolute",
        left: 0,
        top: 0,
        width: 1389,
        height: 1490,
        background: "#fff",
        overflow: "hidden",
      }}
    >
      <Panel
        name="H144"
        top={33}
        xDomain={shortX}
        xTicks={X_TICKS_SHORT}
        yDomain={[-1545, 1916]}
        yTicks={[-1500, -1000, -500, 0, 500, 1000, 1500]}
        orig={fromPairs(H144_ORIG)}
        augs={[H144_AUG0, H144_AUG1, H144_AUG2].map((a) => fromGrid(a, STEP_AUG_SHORT))}
        origCurve="linear"
        legend={{ left: 1160, top: 37 }}
        yLabelX={16}
      />
      <Panel
        name="H146"
        top={326}
        xDomain={shortX}
        xTicks={X_TICKS_SHORT}
        yDomain={[-488, 1234]}
        yTicks={[-250, 0, 250, 500, 750, 1000]}
        orig={fromPairs(H146_ORIG)}
        augs={[H146_AUG0, H146_AUG1, H146_AUG2].map((a) => fromGrid(a, STEP_AUG_SHORT))}
        origCurve="linear"
        legend={{ left: 1160, top: 330 }}
        yLabelX={25}
      />
      <Panel
        name="H235"
        top={619}
        xDomain={longX}
        xTicks={X_TICKS_LONG}
        yDomain={[2.85, 25.5]}
        yTicks={[5, 10, 15, 20, 25]}
        orig={fromGrid(H235_ORIG, STEP_ORIG_LONG)}
        augs={[H235_AUG0, H235_AUG1, H235_AUG2].map((a) => fromGrid(a, STEP_AUG_LONG))}
        origCurve="monotone"
        legend={{ left: 91, top: 623 }}
        yLabelX={45}
      />
      <Panel
        name="H234"
        top={912}
        xDomain={longX}
        xTicks={X_TICKS_LONG}
        yDomain={[1.87, 25.3]}
        yTicks={[5, 10, 15, 20, 25]}
        orig={fromGrid(H234_ORIG, STEP_ORIG_LONG)}
        augs={[H234_AUG0, H234_AUG1, H234_AUG2].map((a) => fromGrid(a, STEP_AUG_LONG))}
        origCurve="monotone"
        legend={{ left: 91, top: 916 }}
        yLabelX={45}
      />
      <Panel
        name="H357"
        top={1205}
        xDomain={longX}
        xTicks={X_TICKS_LONG}
        yDomain={[-21.7, 74.3]}
        yTicks={[-20, 0, 20, 40, 60]}
        orig={fromPairs(H357_ORIG)}
        augs={[H357_AUG0, H357_AUG1, H357_AUG2].map((a) => fromGrid(a, STEP_AUG_H357))}
        origCurve="linear"
        legend={{ left: 1160, top: 1397 }}
        yLabelX={34}
      />
      <div
        style={{
          position: "absolute",
          left: PLOT_L,
          width: PLOT_R - PLOT_L,
          top: 1463,
          textAlign: "center",
          fontFamily: FONT,
          fontSize: 13.9,
          lineHeight: "18px",
          color: "#000",
        }}
      >
        Timestamp
      </div>
    </div>
  );
}
